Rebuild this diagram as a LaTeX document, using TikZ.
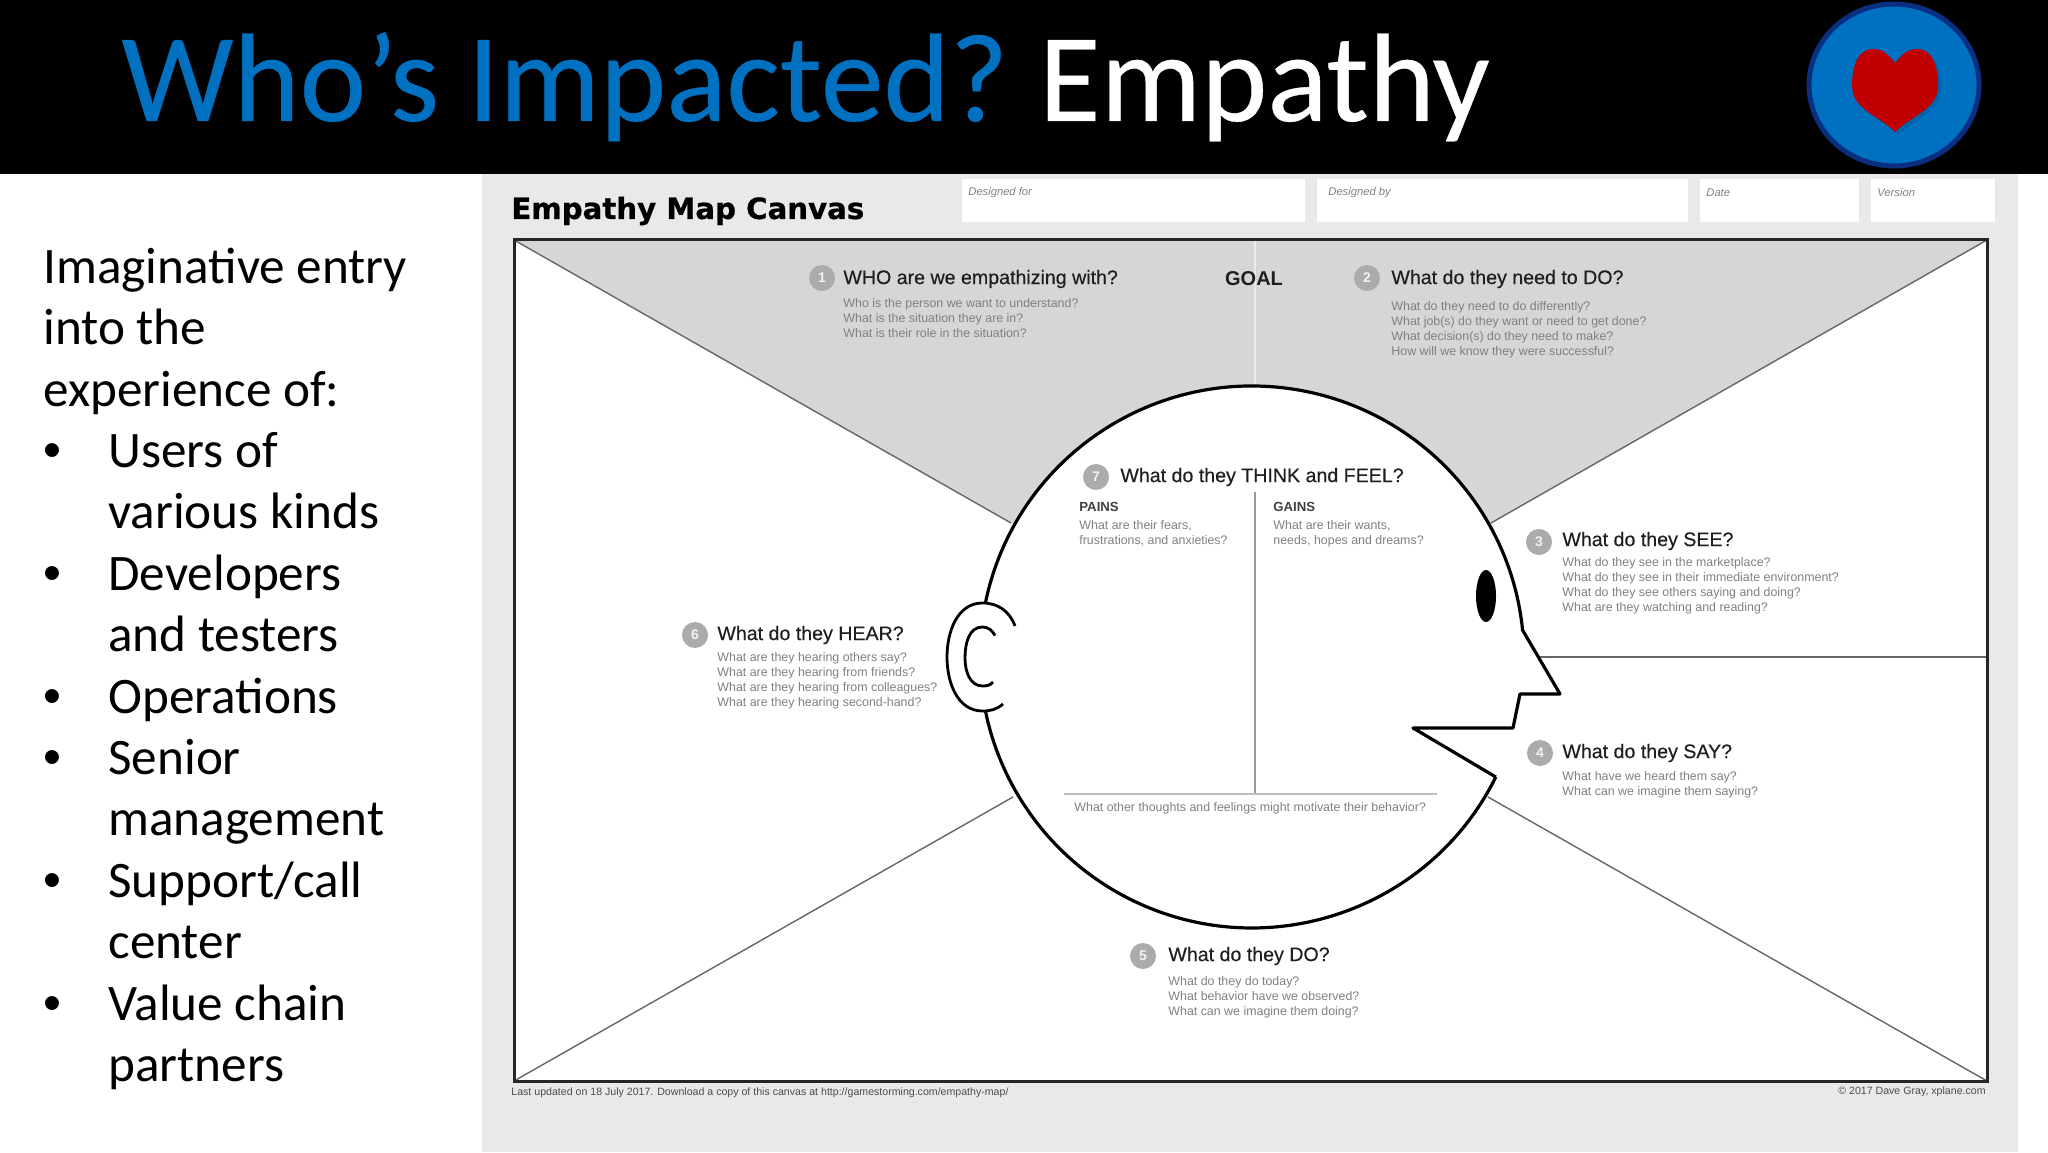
\documentclass[tikz,border=0pt]{standalone}
\usepackage{fontspec}
\usetikzlibrary{shapes.geometric}
\newfontfamily\slidefont{Carlito}
\newfontfamily\titlefont[FakeBold=0.3]{Carlito}
\newfontfamily\mapfont{Liberation Sans}
\newfontfamily\headfont[FakeBold=0.4]{Liberation Sans}
\newfontfamily\logofont[FakeBold=0.8]{DejaVu Sans Bold}
\definecolor{slideblue}{HTML}{0070C0}
\definecolor{ringblue}{HTML}{0A2F80}
\definecolor{heartred}{HTML}{C00000}
\definecolor{panelgrey}{HTML}{E9E9EB}
\definecolor{goalgrey}{HTML}{D6D6D8}
\definecolor{badgegrey}{HTML}{ABABAB}
\tikzset{
  slidetext/.style={anchor=base west,inner sep=0pt,font=\slidefont\fontsize{25.6}{30}\selectfont},
  bulletmark/.style={anchor=base west,inner sep=0pt,font=\mapfont\fontsize{25.6}{30}\selectfont},
  fieldbox/.style={fill=white,draw=none},
  fieldlabel/.style={anchor=west,inner sep=0pt,text=black!50,font=\mapfont\itshape\fontsize{5.6}{7}\selectfont},
  badge/.style={circle,fill=badgegrey,minimum size=13pt,inner sep=0pt,text=white!85!badgegrey,font=\mapfont\bfseries\fontsize{7}{8}\selectfont},
  sechead/.style={anchor=west,inner sep=0pt,text=black!88,font=\headfont\fontsize{9.8}{12}\selectfont},
  secsub/.style={anchor=north west,inner sep=0pt,align=left,text=black!50,font=\mapfont\fontsize{6.2}{7.5}\selectfont},
  headline/.style={draw=black,line width=1.6pt,join=round},
  thinline/.style={draw=black!60,line width=.7pt},
  footnotetext/.style={inner sep=0pt,text=black!70,font=\mapfont\fontsize{5.3}{7}\selectfont},
}
\begin{document}
\begin{tikzpicture}[x=0.5pt,y=0.5pt]
\useasboundingbox (0,0) rectangle (2048,1152);
\fill[white] (0,0) rectangle (2048,1152);
% title bar
\fill[black] (0,978) rectangle (2048,1152);
\node[anchor=base west,inner sep=0pt,font=\titlefont\fontsize{63}{76}\selectfont] (title) at (121,1031) {\textcolor{slideblue}{Who’s Impacted?}\hspace*{15.5pt}\textcolor{white}{Empathy}};
\node[ellipse,fill=slideblue,draw=ringblue,line width=2.5pt,minimum width=85pt,minimum height=81pt,inner sep=0pt] (logo) at (1894,1067) {};
\fill[black,opacity=.1] (1898,1086) to[out=50,in=180] (1920,1100) to[out=0,in=90] (1941,1064) to[out=-90,in=45] (1898,1017) to[out=135,in=-90] (1855,1064) to[out=90,in=180] (1876,1100) to[out=0,in=130] cycle;
\fill[heartred] (1895,1089) to[out=50,in=180] (1917,1103) to[out=0,in=90] (1938,1067) to[out=-90,in=45] (1895,1020) to[out=135,in=-90] (1852,1067) to[out=90,in=180] (1873,1103) to[out=0,in=130] cycle;
% list on the left
\foreach \n/\xx/\lbl in {0/43/Imaginative entry,1/43/into the,2/43/experience of:,3/108/Users of,4/108/various kinds,5/108/Developers,6/108/and testers,7/108/Operations,8/108/Senior,9/108/management,10/108/{Support/call},11/108/center,12/108/Value chain,13/108/partners}
  \node[slidetext] (line\n) at (\xx,{868.7-61.4*\n}) {\lbl};
\foreach \n in {3,5,7,8,10,12}
  \node[bulletmark] (bullet\n) at (43,{868.7-61.4*\n}) {•};
% canvas sheet
\fill[panelgrey] (482,0) rectangle (2018,978);
\foreach \xa/\xb in {962/1305,1317/1688,1700/1859,1871/1995}
  \fill[fieldbox] (\xa,930) rectangle (\xb,973);
\node[anchor=west,inner sep=0pt,text=black,font=\logofont\fontsize{14.6}{17}\selectfont] (canvasname) at (511,941) {Empathy Map Canvas};
\node[fieldlabel] (fieldfor) at (968,959) {Designed for};
\node[fieldlabel] (fieldby) at (1328,959) {Designed by};
\node[fieldlabel] (fielddate) at (1706,959) {Date};
\node[fieldlabel] (fieldversion) at (1877,959) {Version};
% frame and sectors
\fill[white] (514,71) rectangle (1987,912);
\fill[goalgrey] (514,912) -- (1987,912) -- (1491,629) -- (1011,629) -- cycle;
\draw[white!92!black,line width=.8pt] (1255,912) -- (1255,766);
\draw[thinline] (514,912) -- (1011,629);
\draw[thinline] (1987,912) -- (1491,629);
\draw[thinline] (514,71) -- (1013,355);
\draw[thinline] (1987,71) -- (1488,355);
\draw[thinline] (1537,495) -- (1987,495);
\draw[draw=black!85,line width=1.5pt] (514,71) rectangle (1987,912);
% head
\coordinate (mouthcorner) at (1495.8,375);
\coordinate (earbottom) at (985.4,441);
\coordinate (eartop) at (985.4,549);
\coordinate (nosebridge) at (1522.7,521.9);
\coordinate (nosetip) at (1560,458);
\coordinate (noseunder) at (1520,458);
\coordinate (lipedge) at (1513,424);
\coordinate (mouthinner) at (1413,424);
\fill[white] (mouthcorner) arc[start angle=-26.3,end angle=-354.3,x radius=272,y radius=271] -- (nosetip) -- (noseunder) -- (lipedge) -- (mouthinner) -- cycle;
\draw[headline] (mouthcorner) arc[start angle=-26.3,end angle=-168.5,x radius=272,y radius=271];
\draw[headline] (eartop) arc[start angle=168.5,end angle=5.7,x radius=272,y radius=271] -- (nosetip) -- (noseunder) -- (lipedge) -- (mouthinner) -- (mouthcorner);
% ear
\draw[black,line width=1.4pt] (1015,526) to[out=110,in=0] (982.5,549) to[out=180,in=90] (947,495) to[out=-90,in=180] (982.5,441) to[out=0,in=-140] (1003,448);
\draw[black,line width=1.4pt] (995,516.5) to[out=120,in=0] (982.5,525) to[out=180,in=90] (965,494) to[out=-90,in=180] (982.5,466) to[out=0,in=-130] (993,470);
\fill[black] (1486,556) ellipse (10 and 26);
\draw[black!40,line width=.7pt] (1255,660) -- (1255,358);
\draw[black!25,line width=.7pt] (1064,358) -- (1437,358);
% section 1
\node[badge] (badgeone) at (822,874) {1};
\node[sechead] (headone) at (843,873) {WHO are we empathizing with?};
\node[secsub] (subone) at (843,854) {Who is the person we want to understand?\\What is the situation they are in?\\What is their role in the situation?};
\node[inner sep=0pt,text=black!88,font=\mapfont\bfseries\fontsize{10}{12}\selectfont] (goal) at (1254,873) {GOAL};
% section 2
\node[badge] (badgetwo) at (1367,874) {2};
\node[sechead] (headtwo) at (1391,873) {What do they need to DO?};
\node[secsub] (subtwo) at (1391,851) {What do they need to do differently?\\What job(s) do they want or need to get done?\\What decision(s) do they need to make?\\How will we know they were successful?};
% section 3
\node[badge] (badgethree) at (1539,610) {3};
\node[sechead] (headthree) at (1562,611) {What do they SEE?};
\node[secsub] (subthree) at (1562,595) {What do they see in the marketplace?\\What do they see in their immediate environment?\\What do they see others saying and doing?\\What are they watching and reading?};
% section 4
\node[badge] (badgefour) at (1540,399) {4};
\node[sechead] (headfour) at (1562,399) {What do they SAY?};
\node[secsub] (subfour) at (1562,381) {What have we heard them say?\\What can we imagine them saying?};
% section 5
\node[badge] (badgefive) at (1143,196) {5};
\node[sechead] (headfive) at (1168,196) {What do they DO?};
\node[secsub] (subfive) at (1168,176) {What do they do today?\\What behavior have we observed?\\What can we imagine them doing?};
% section 6
\node[badge] (badgesix) at (695,517) {6};
\node[sechead] (headsix) at (717,517) {What do they HEAR?};
\node[secsub] (subsix) at (717,500) {What are they hearing others say?\\What are they hearing from friends?\\What are they hearing from colleagues?\\What are they hearing second-hand?};
% section 7
\node[badge] (badgeseven) at (1096,675) {7};
\node[sechead] (headseven) at (1120,675) {What do they THINK and FEEL?};
\node[sechead,font=\mapfont\bfseries\fontsize{6.6}{8}\selectfont,text=black!75] (pains) at (1079,645) {PAINS};
\node[sechead,font=\mapfont\bfseries\fontsize{6.6}{8}\selectfont,text=black!75] (gains) at (1273,645) {GAINS};
\node[secsub] (subpains) at (1079,632) {What are their fears,\\frustrations, and anxieties?};
\node[secsub] (subgains) at (1273,632) {What are their wants,\\needs, hopes and dreams?};
\node[secsub] (subother) at (1074,350) {What other thoughts and feelings might motivate their behavior?};
% footer
\node[footnotetext,anchor=west] (updated) at (511,59) {Last updated on 18 July 2017. Download a copy of this canvas at http://gamestorming.com/empathy-map/};
\node[footnotetext,anchor=east] (copyright) at (1986,60) {© 2017 Dave Gray, xplane.com};
\end{tikzpicture}
\end{document}
